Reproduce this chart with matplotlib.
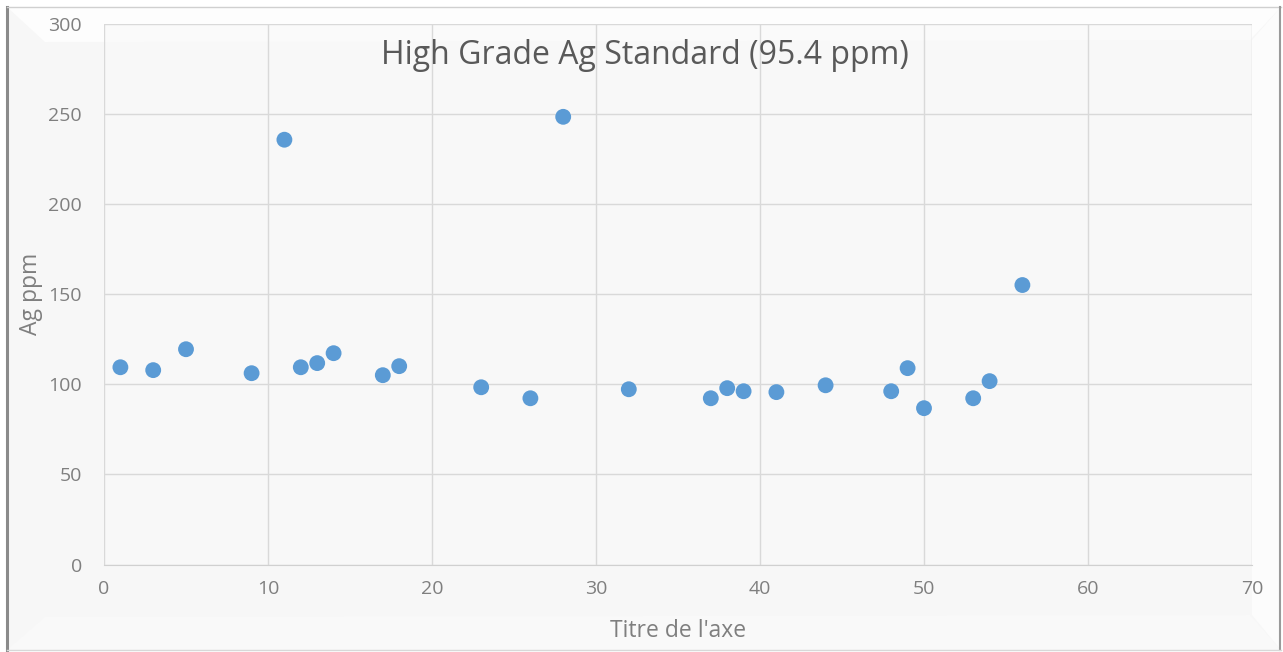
import numpy as np
import matplotlib
matplotlib.use("Agg")
import matplotlib.pyplot as plt
from matplotlib.patches import Polygon, Rectangle

plt.rcParams['font.family'] = ['Open Sans', 'DejaVu Sans']

# Data
sample_no = [1, 3, 5, 9, 11, 12, 13, 14, 17, 18, 23, 26, 28, 32, 37, 38, 39, 41, 44, 48, 49, 50, 53, 54, 56]
ag_ppm = [109.4, 107.8, 119.4, 106.1, 235.6, 109.4, 111.7, 117.2, 105.0, 110.0, 98.3, 92.2, 248.3,
          97.2, 92.2, 97.8, 96.1, 95.6, 99.4, 96.1, 108.9, 86.7, 92.2, 101.7, 155.0]
x_ticks = [0, 10, 20, 30, 40, 50, 60, 70]
y_ticks = [0, 50, 100, 150, 200, 250, 300]
title = "High Grade Ag Standard (95.4 ppm)"
xlabel = "Titre de l'axe"
ylabel = "Ag ppm"

W, H = 1283, 652
fig = plt.figure(figsize=(W / 100, H / 100), dpi=100, facecolor='white')

# Decorative frame (figure pixel coordinates)
bg = fig.add_axes([0, 0, 1, 1], zorder=0)
bg.set_xlim(0, W)
bg.set_ylim(H, 0)
bg.axis('off')
bg.add_patch(Rectangle((7, 7), 1274, 643, facecolor='#f7f7f7', edgecolor='none'))
grad = np.linspace(0.78, 0.97, 64)[None, :]
left_poly = Polygon([(7, 7), (45, 42), (45, 617), (7, 650)], closed=True, facecolor='none', edgecolor='none')
bg.add_patch(left_poly)
im = bg.imshow(np.repeat(grad, 2, axis=0), cmap='gray', vmin=0, vmax=1, extent=(7, 45, 650, 7),
               aspect='auto', interpolation='bilinear')
im.set_clip_path(left_poly)
bg.add_patch(Polygon([(7, 7), (1281, 7), (1250, 40), (45, 42)], closed=True, facecolor='#fdfdfd', edgecolor='none'))
bg.add_patch(Polygon([(7, 650), (1281, 650), (1250, 615), (45, 617)], closed=True, facecolor='#f9f9f9', edgecolor='none'))
bg.add_patch(Polygon([(1281, 7), (1281, 650), (1252, 615), (1252, 40)], closed=True, facecolor='#fcfcfc', edgecolor='none'))
bg.plot([7, 7], [7, 650], color='#8a8a8a', lw=2.2)
bg.plot([7, 1281], [7, 7], color='#d0d0d0', lw=1)
bg.plot([1280, 1280], [7, 650], color='#9a9a9a', lw=1.5)
bg.plot([7, 1281], [650, 650], color='#d8d8d8', lw=1)

# Main axes
ax = fig.add_axes([104 / W, 1 - 564.5 / H, (1252 - 104) / W, (564.5 - 23.6) / H], zorder=1)
ax.set_facecolor('#f9f9f9')
ax.patch.set_alpha(0.6)
ax.scatter(sample_no, ag_ppm, s=130, color='#5b9bd5', zorder=3, edgecolors='none')
ax.set_xlim(0, 70)
ax.set_ylim(0, 300)
ax.set_xticks(x_ticks)
ax.set_yticks(y_ticks)
ax.grid(True, color='#d9d9d9', lw=1)
ax.set_axisbelow(True)
for s in ['top', 'right', 'left']:
    ax.spines[s].set_visible(False)
ax.spines['bottom'].set_color('#d0d0d0')
ax.tick_params(length=0, labelsize=14, labelcolor='#7f7f7f')
ax.tick_params(axis='x', pad=11)
ax.tick_params(axis='y', pad=16)
ax.set_xlabel(xlabel, fontsize=16.5, color='#7f7f7f')
ax.xaxis.label.set_va('center')
ax.xaxis.set_label_coords(0.5, (564.5 - 631) / 540.9)
ax.set_ylabel(ylabel, fontsize=16.5, color='#7f7f7f')
ax.yaxis.label.set_va('center')
ax.yaxis.set_label_coords((31 - 104) / 1148, 0.5)
fig.text(645 / W, 1 - 55 / H, title, fontsize=23, color='#595959',
         ha='center', va='center', zorder=4)

fig.savefig('out.png', dpi=100, facecolor='white')
